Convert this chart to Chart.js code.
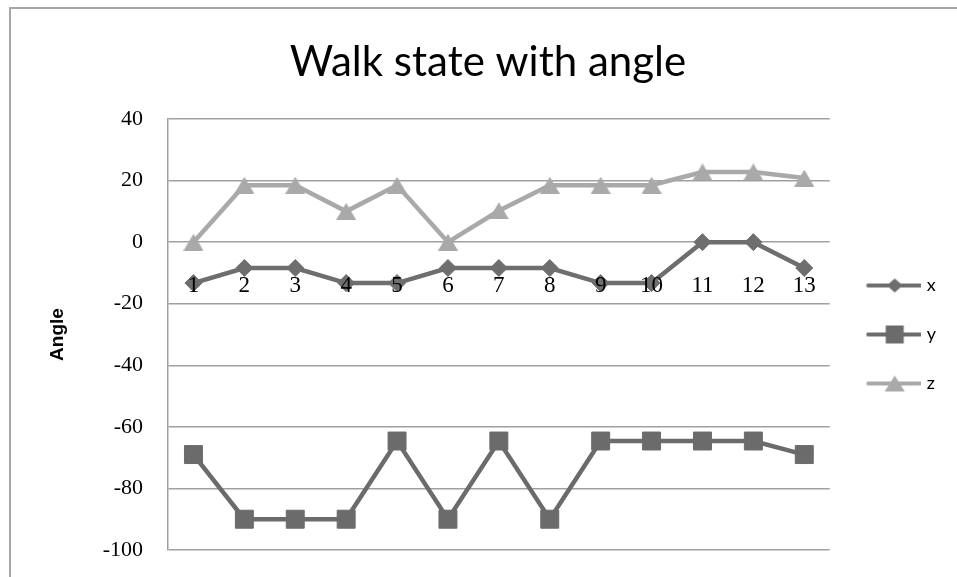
<!DOCTYPE html>
<html>
<head>
<meta charset="utf-8">
<title>Walk state with angle</title>
<script src="https://cdn.jsdelivr.net/npm/chart.js@4.4.0/dist/chart.umd.min.js"></script>
<style>
  html, body { margin: 0; padding: 0; background: #fff; }
  #wrap { width: 957px; height: 577px; }
</style>
</head>
<body>
<div id="wrap"><canvas id="myChart" width="957" height="577"></canvas></div>
<script>
// samples 1..13, angle per axis
const labels = ["1", "2", "3", "4", "5", "6", "7", "8", "9", "10", "11", "12", "13"];
const xAngle = [-13.3, -8.4, -8.4, -13.3, -13.3, -8.4, -8.4, -8.4, -13.3, -13.3, 0, 0, -8.4];
const yAngle = [-69, -90, -90, -90, -64.6, -90, -64.6, -90, -64.6, -64.6, -64.6, -64.6, -69];
const zAngle = [0, 18.5, 18.5, 10, 18.5, 0, 10.2, 18.5, 18.5, 18.5, 22.8, 22.8, 20.8];

const yMin = -100;
const yMax = 40;
const yStep = 20;

const X_COLOR = "#6e6e6e";
const Y_COLOR = "#6b6b6b";
const Z_COLOR = "#a9a9a9";
const GRID_COLOR = "#a0a0a0";

// triangle centred in its own box (built-in one sits high)
function triangleMarker(w, h, color) {
  const c = document.createElement("canvas");
  c.width = w;
  c.height = h;
  const ctx = c.getContext("2d");
  ctx.fillStyle = color;
  ctx.beginPath();
  ctx.moveTo(w / 2, 0);
  ctx.lineTo(w, h);
  ctx.lineTo(0, h);
  ctx.closePath();
  ctx.fill();
  return c;
}

// legend swatch: short line with the marker in the middle
function legendSample(style, color) {
  const c = document.createElement("canvas");
  c.width = 64;
  c.height = 22;
  const ctx = c.getContext("2d");
  const cx = 37.5, cy = 11;
  ctx.strokeStyle = color;
  ctx.lineWidth = 4;
  ctx.lineCap = "round";
  ctx.beginPath();
  ctx.moveTo(11, cy);
  ctx.lineTo(63, cy);
  ctx.stroke();
  ctx.fillStyle = color;
  ctx.beginPath();
  if (style === "diamond") {
    ctx.moveTo(cx, cy - 7);
    ctx.lineTo(cx + 8, cy);
    ctx.lineTo(cx, cy + 7);
    ctx.lineTo(cx - 8, cy);
  } else if (style === "square") {
    ctx.rect(cx - 9, cy - 9, 18, 18);
  } else {
    ctx.moveTo(cx, cy - 8);
    ctx.lineTo(cx + 10, cy + 8);
    ctx.lineTo(cx - 10, cy + 8);
  }
  ctx.closePath();
  ctx.fill();
  return c;
}

const legendSamples = [
  legendSample("diamond", X_COLOR),
  legendSample("square", Y_COLOR),
  legendSample("triangle", Z_COLOR),
];

const framePlugin = {
  id: "frame",
  beforeDraw(chart) {
    const ctx = chart.ctx;
    ctx.save();
    ctx.fillStyle = "#fff";
    ctx.fillRect(0, 0, chart.width, chart.height);
    ctx.strokeStyle = "#a6a6a6";
    ctx.lineWidth = 2;
    ctx.beginPath();
    ctx.moveTo(10, chart.height);
    ctx.lineTo(10, 8);
    ctx.lineTo(chart.width, 8);
    ctx.stroke();
    ctx.restore();
  },
};

const data = {
  labels: labels,
  datasets: [
    {
      label: "x",
      data: xAngle,
      borderColor: X_COLOR,
      backgroundColor: X_COLOR,
      borderWidth: 4.5,
      pointStyle: "rectRot",
      pointRadius: 8.5,
      pointBorderWidth: 1,
      pointBackgroundColor: X_COLOR,
      pointBorderColor: X_COLOR,
    },
    {
      label: "y",
      data: yAngle,
      borderColor: Y_COLOR,
      backgroundColor: Y_COLOR,
      borderWidth: 4.5,
      pointStyle: "rect",
      pointRadius: 12.7,
      pointBorderWidth: 1,
      pointBackgroundColor: Y_COLOR,
      pointBorderColor: Y_COLOR,
    },
    {
      label: "z",
      data: zAngle,
      borderColor: Z_COLOR,
      backgroundColor: Z_COLOR,
      borderWidth: 4.5,
      pointStyle: triangleMarker(20, 17, Z_COLOR),
      pointRadius: 10,
    },
  ],
};

const config = {
  type: "line",
  data: data,
  options: {
    responsive: false,
    animation: false,
    layout: {
      padding: { left: 30, right: 11, top: 0, bottom: 27 },
    },
    plugins: {
      title: {
        display: true,
        text: "Walk state with angle",
        color: "#000",
        font: { family: "Lato", size: 42, weight: "normal", lineHeight: 1.2 },
        padding: { top: 36.8, bottom: 31.8 },
      },
      legend: {
        position: "right",
        fullSize: false,
        labels: {
          usePointStyle: true,
          pointStyleWidth: 57,
          padding: 31,
          color: "#000",
          font: { family: "Lato", size: 18 },
          generateLabels(chart) {
            const items = Chart.defaults.plugins.legend.labels.generateLabels(chart);
            items.forEach((item, i) => {
              item.pointStyle = legendSamples[i];
            });
            return items;
          },
        },
      },
      tooltip: { enabled: false },
    },
    elements: {
      line: { tension: 0 },
    },
    scales: {
      x: {
        type: "category",
        offset: true,
        position: { y: 0 },
        grid: { display: false, drawTicks: false },
        border: { display: false },
        ticks: {
          z: 1,
          color: "#000",
          padding: 30,
          maxRotation: 0,
          font: { family: "Liberation Serif", size: 23 },
        },
      },
      y: {
        min: yMin,
        max: yMax,
        afterFit(scale) {
          // fixed axis width; end labels may spill into the outer padding
          scale.width = 138;
          scale.paddingTop = 0;
          scale.paddingBottom = 0;
        },
        grid: {
          color: GRID_COLOR,
          lineWidth: 1.5,
          drawTicks: false,
        },
        border: { color: GRID_COLOR, width: 1.5 },
        ticks: {
          stepSize: yStep,
          color: "#000",
          padding: 25,
          font: { family: "Liberation Serif", size: 22 },
        },
        title: {
          display: true,
          text: "Angle",
          color: "#000",
          font: { family: "Liberation Sans", size: 19, weight: "bold", lineHeight: 1.2 },
          padding: { top: 16.6, bottom: 0 },
        },
      },
    },
  },
  plugins: [framePlugin],
};

const chart = new Chart(document.getElementById("myChart"), config);
</script>
</body>
</html>
